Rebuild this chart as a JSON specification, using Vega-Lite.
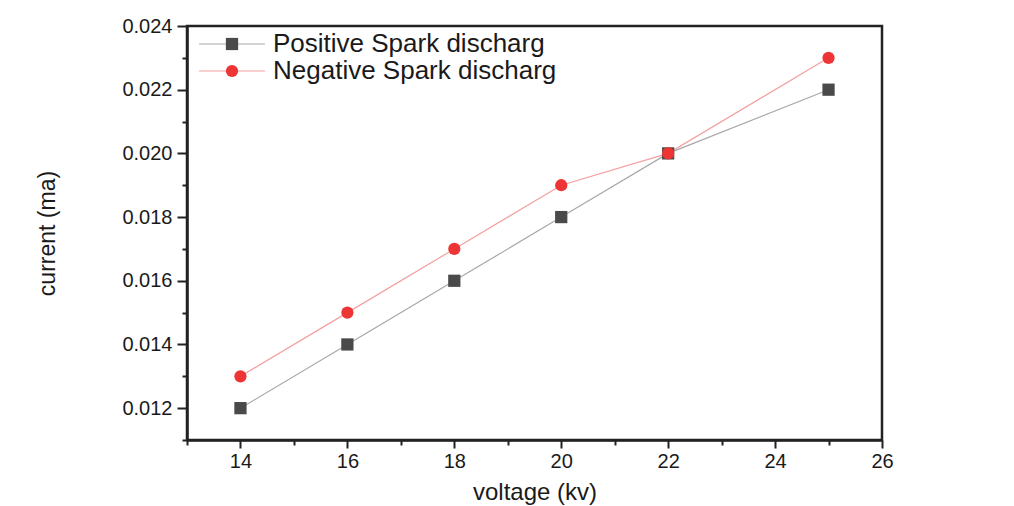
{
  "$schema": "https://vega.github.io/schema/vega-lite/v6.json",
  "autosize": {"type": "none"},
  "width": 695,
  "height": 414,
  "padding": {"left": 187, "top": 26, "right": 132, "bottom": 66},
  "background": "white",
  "config": {
    "font": "Liberation Sans",
    "view": {"stroke": "#222222", "strokeWidth": 2.5},
    "axis": {"grid": false, "domainColor": "#222222", "domainWidth": 2.5, "tickColor": "#222222", "tickWidth": 2, "labelColor": "#1a1a1a", "titleColor": "#1a1a1a", "labelFont": "Liberation Sans", "titleFont": "Liberation Sans", "titleFontWeight": "normal", "labelOverlap": false, "labelFlush": false}
  },
  "data": {
    "values": [
      {"voltage": 14, "current": 0.012, "series": "Positive Spark discharg"},
      {"voltage": 16, "current": 0.014, "series": "Positive Spark discharg"},
      {"voltage": 18, "current": 0.016, "series": "Positive Spark discharg"},
      {"voltage": 20, "current": 0.018, "series": "Positive Spark discharg"},
      {"voltage": 22, "current": 0.020, "series": "Positive Spark discharg"},
      {"voltage": 25, "current": 0.022, "series": "Positive Spark discharg"},
      {"voltage": 14, "current": 0.013, "series": "Negative Spark discharg"},
      {"voltage": 16, "current": 0.015, "series": "Negative Spark discharg"},
      {"voltage": 18, "current": 0.017, "series": "Negative Spark discharg"},
      {"voltage": 20, "current": 0.019, "series": "Negative Spark discharg"},
      {"voltage": 22, "current": 0.020, "series": "Negative Spark discharg"},
      {"voltage": 25, "current": 0.023, "series": "Negative Spark discharg"}
    ]
  },
  "encoding": {
    "x": {
      "field": "voltage", "type": "quantitative",
      "scale": {"domain": [13, 26], "nice": false, "zero": false},
      "axis": {
        "title": "voltage (kv)", "titleFontSize": 24, "titlePadding": 9,
        "values": [13, 14, 15, 16, 17, 18, 19, 20, 21, 22, 23, 24, 25, 26],
        "labelExpr": "datum.value % 2 == 0 ? format(datum.value, 'd') : ''",
        "labelFontSize": 20, "labelPadding": 3,
        "tickSize": {"condition": {"test": "datum.value % 2 == 0", "value": 8}, "value": 5}
      }
    },
    "y": {
      "field": "current", "type": "quantitative",
      "scale": {"domain": [0.011, 0.024], "nice": false, "zero": false},
      "axis": {
        "title": "current (ma)", "titleFontSize": 23, "titlePadding": 62,
        "values": [0.011, 0.012, 0.013, 0.014, 0.015, 0.016, 0.017, 0.018, 0.019, 0.020, 0.021, 0.022, 0.023, 0.024],
        "labelExpr": "round(datum.value * 1000) % 2 == 0 ? format(datum.value, '.3f') : ''",
        "labelFontSize": 20, "labelPadding": 5,
        "tickSize": {"condition": {"test": "round(datum.value * 1000) % 2 == 0", "value": 10}, "value": 5}
      }
    }
  },
  "layer": [
    {
      "mark": {"type": "line", "strokeWidth": 1.2},
      "encoding": {
        "stroke": {
          "field": "series", "type": "nominal",
          "scale": {"domain": ["Negative Spark discharg", "Positive Spark discharg"], "range": ["#f3a0a0", "#a8a8a8"]},
          "legend": {
            "orient": "none", "legendX": 32, "legendY": 5, "padding": 0,
            "values": ["Positive Spark discharg", "Negative Spark discharg"],
            "title": null, "symbolType": "M-5.5,0H5.5", "symbolSize": 144, "symbolStrokeWidth": 1.2,
            "labelExpr": "''", "labelFontSize": 26, "labelLimit": 0, "rowPadding": 1
          }
        }
      }
    },
    {
      "mark": {"type": "point", "filled": true, "size": 150, "opacity": 1},
      "encoding": {
        "fill": {
          "field": "series", "type": "nominal",
          "scale": {"domain": ["Positive Spark discharg", "Negative Spark discharg"], "range": ["#4a4a4a", "#ee3535"]},
          "legend": {
            "orient": "none", "legendX": 32, "legendY": 5, "padding": 0,
            "title": null, "symbolSize": 150, "symbolStrokeWidth": 0,
            "labelFontSize": 26, "labelColor": "#1a1a1a", "labelOffset": 28, "labelLimit": 0, "rowPadding": 1
          }
        },
        "shape": {
          "field": "series", "type": "nominal",
          "scale": {"domain": ["Positive Spark discharg", "Negative Spark discharg"], "range": ["square", "circle"]},
          "legend": {
            "orient": "none", "legendX": 32, "legendY": 5, "padding": 0,
            "title": null, "symbolSize": 150, "symbolStrokeWidth": 0,
            "labelFontSize": 26, "labelColor": "#1a1a1a", "labelOffset": 28, "labelLimit": 0, "rowPadding": 1
          }
        }
      }
    }
  ]
}
